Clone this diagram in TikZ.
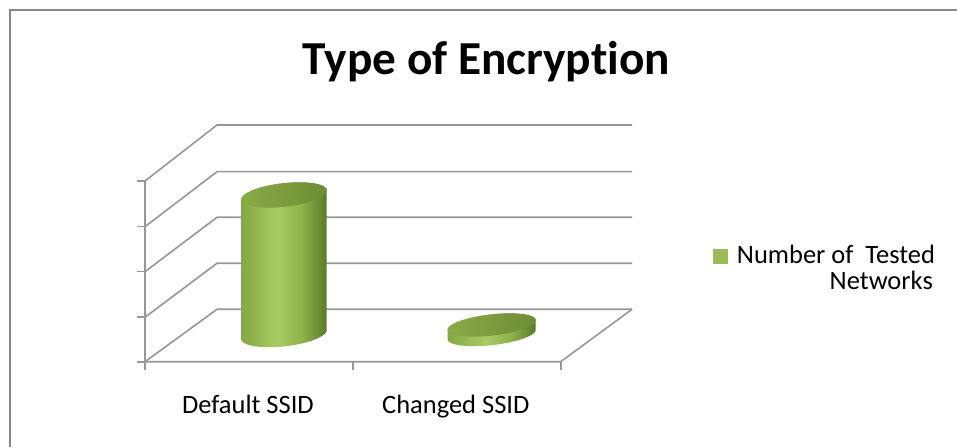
\documentclass[tikz,border=0pt]{standalone}
\usepackage{fontspec}
\setmainfont{Carlito}[Ligatures=NoCommon]
\usetikzlibrary{shadings}
\definecolor{gridgray}{HTML}{979797}
\definecolor{framegray}{HTML}{878787}
\definecolor{legendgreen}{HTML}{9BBB59}
\definecolor{cylA}{HTML}{84A842}
\definecolor{cylB}{HTML}{A8CB64}
\definecolor{cylC}{HTML}{90B44C}
\definecolor{cylD}{HTML}{5B7A29}
\definecolor{topA}{HTML}{8AAB47}
\definecolor{topB}{HTML}{6E8C35}
\pgfdeclarehorizontalshading{cylside}{100bp}{color(0bp)=(cylA); color(25bp)=(cylA); color(46bp)=(cylB); color(60bp)=(cylC); color(75bp)=(cylD); color(100bp)=(cylD)}
\pgfdeclarehorizontalshading{cyltop}{100bp}{color(0bp)=(topA); color(25bp)=(topA); color(75bp)=(topB); color(100bp)=(topB)}
\tikzset{
  gridline/.style={draw=gridgray, line width=1.6pt},
  frameline/.style={draw=framegray, line width=2pt},
  lbl/.style={inner sep=0pt, font=\fontsize{26.5}{32}\selectfont},
  titlelbl/.style={inner sep=0pt, font=\fontsize{47.3}{57}\selectfont\bfseries},
}
% cx, topY, botY, rx, ry
\newcommand\cylbar[5]{%
  \shade[shading=cylside]
    plot[domain=180:360,samples=60,variable=\t]
      ({#1+#4*cos(\t)*cos(6.5)-#5*sin(\t)*sin(6.5)},{#3+#4*cos(\t)*sin(6.5)+#5*sin(\t)*cos(6.5)})
    -- plot[domain=0:180,samples=60,variable=\t]
      ({#1+#4*cos(\t)*cos(6.5)-#5*sin(\t)*sin(6.5)},{#2+#4*cos(\t)*sin(6.5)+#5*sin(\t)*cos(6.5)})
    -- cycle;
  \shade[shading=cyltop]
    plot[domain=0:360,samples=90,variable=\t]
      ({#1+#4*cos(\t)*cos(6.5)-#5*sin(\t)*sin(6.5)},{#2+#4*cos(\t)*sin(6.5)+#5*sin(\t)*cos(6.5)})
    -- cycle;
}
\begin{document}
\begin{tikzpicture}[x=1pt,y=1pt]
\useasboundingbox (0,0) rectangle (957,447);
\fill[white] (0,0) rectangle (957,447);
% outer frame
\coordinate (fbl) at (10,0);
\coordinate (ftl) at (10,437);
\coordinate (ftr) at (957,437);
\draw[frameline] (fbl) -- (ftl) -- (ftr);
% title
\node[titlelbl, anchor=base] (title) at (486.5,372) {Type of Encryption};
% back wall lines
\foreach \i/\yb/\yf in {1/322/266, 2/275.3/220.3, 3/229.7/175.3, 4/183.7/129.7, 5/137.7/85.3}{
  \coordinate (b\i) at (217,\yb);
  \coordinate (r\i) at (632,\yb);
  \coordinate (f\i) at (145,\yf);
  \coordinate (t\i) at (137,\yf);
  \draw[gridline] (f\i) -- (b\i) -- (r\i);
  \draw[gridline] (t\i) -- (f\i);
}
% vertical axis
\coordinate (axbot) at (145,77);
\draw[gridline] (f1) -- (axbot);
% floor
\coordinate (flr) at (560.7,85.3);
\draw[gridline] (f5) -- (flr) -- (r5);
% bottom ticks
\coordinate (tk2) at (353,85.3);
\coordinate (tk2b) at (353,77);
\coordinate (tk3b) at (560.7,77);
\draw[gridline] (tk2) -- (tk2b);
\draw[gridline] (flr) -- (tk3b);
% bars
\cylbar{284}{252}{112.5}{43}{11.8}
\cylbar{491.7}{122}{112.5}{44.3}{10.6}
% category labels
\node[lbl, anchor=base] (cat1) at (248,34) {Default SSID};
\node[lbl, anchor=base] (cat2) at (455.8,34) {Changed SSID};
% legend
\fill[legendgreen] (712.7,183) rectangle (728.3,197.7);
\node[lbl, anchor=base west] (leg1) at (736.7,183) {Number of\ \ Tested};
\node[lbl, anchor=base east] (leg2) at (933,157.7) {Networks};
\end{tikzpicture}
\end{document}
